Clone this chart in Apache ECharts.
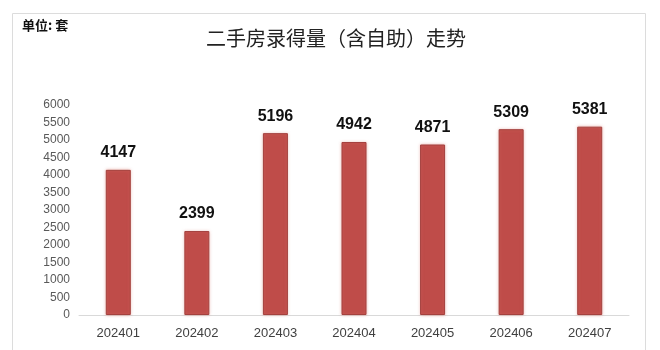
<!DOCTYPE html>
<html>
<head>
<meta charset="utf-8">
<script src="https://cdn.jsdelivr.net/npm/echarts@6/dist/echarts.min.js"></script>
<style>
html,body{margin:0;padding:0;background:#fff;}
#chart{width:660px;height:350px;}
</style>
</head>
<body>
<div id="chart"></div>
<script>
const categories = ['202401','202402','202403','202404','202405','202406','202407'];
const values = [4147, 2399, 5196, 4942, 4871, 5309, 5381];
const titleText = '二手房录得量（含自助）走势';
const unitText = '单位: 套';

const chart = echarts.init(document.getElementById('chart'), null, {renderer:'canvas'});
chart.setOption({
  backgroundColor: '#ffffff',
  animation: false,
  title: {
    text: titleText,
    left: 331,
    textAlign: 'center',
    top: 23,
    textStyle: {fontFamily: 'Noto Sans CJK SC', fontSize: 20, fontWeight: 'normal', color: '#222'}
  },
  graphic: [
    {type:'rect', shape:{x:12.5, y:13.5, width:633, height:345}, style:{fill:'none', stroke:'#dcdcdc', lineWidth:1}, silent:true},
    {type:'text', left: 22, top: 19, style:{text: unitText, font:'bold 13px "Noto Sans CJK SC"', fill:'#111'}}
  ],
  grid: {left: 79, right: 31, top: 105, bottom: 35, containLabel: false},
  xAxis: {
    type: 'category',
    data: categories,
    axisLine: {lineStyle: {color: '#d9d9d9'}},
    axisTick: {show: false},
    axisLabel: {color: '#404040', fontSize: 13, margin: 12, fontFamily: 'Liberation Sans'}
  },
  yAxis: {
    type: 'value',
    min: 0, max: 6000, interval: 500,
    splitLine: {show: false},
    axisLine: {show: false},
    axisTick: {show: false},
    axisLabel: {color: '#595959', fontSize: 12, margin: 9, fontFamily: 'Liberation Sans', formatter: v => String(v)}
  },
  series: [{
    type: 'bar',
    data: values,
    barWidth: 25,
    itemStyle: {color: '#bf4c49', borderColor: '#a4413e', borderWidth: 1, shadowColor: 'rgba(220,120,110,0.5)', shadowBlur: 3},
    label: {
      show: true, position: 'top', distance: 9,
      color: '#111', fontSize: 16, fontWeight: 'bold', fontFamily: 'Liberation Sans'
    }
  }]
});
</script>
</body>
</html>
